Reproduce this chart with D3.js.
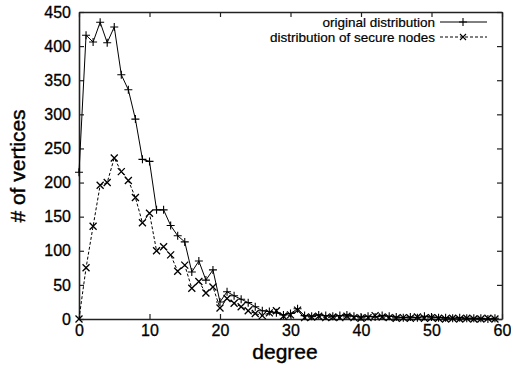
<!DOCTYPE html>
<html>
<head>
<meta charset="utf-8">
<script src="https://cdn.jsdelivr.net/npm/d3@7"></script>
<style>
  body { margin: 0; background: #fff; }
  text { font-family: "Liberation Sans", Arial, sans-serif; fill: #000; }
</style>
</head>
<body>
<div id="chart"></div>
<script>
var svgWidth = 511;
var svgHeight = 366;

var margin = { top: 12, right: 9, bottom: 47, left: 79 };
var width = svgWidth - margin.left - margin.right;
var height = svgHeight - margin.top - margin.bottom;

// values, one per degree 0..59
var degrees = d3.range(0, 60);
var original = [215, 416, 406, 435, 405, 428, 358, 336, 293, 234, 231, 160, 160, 137, 122, 113,
  69, 85, 57, 72, 25, 40, 34, 29, 24, 18, 12, 11, 9, 6, 8, 15, 5, 4, 6, 5, 4, 5, 6, 4,
  3, 4, 3, 5, 4, 3, 2, 3, 2, 4, 3, 2, 2, 1, 2, 1, 1, 1, 0, 1];
var secure = [0, 75, 136, 196, 200, 236, 216, 203, 178, 141, 155, 100, 106, 94, 70, 79,
  45, 55, 38, 47, 16, 30, 23, 18, 12, 8, 5, 9, 12, 4, 6, 13, 2, 3, 4, 2, 3, 2, 4, 2,
  1, 2, 5, 3, 2, 1, 2, 1, 3, 1, 2, 1, 0, 1, 0, 1, 0, 0, 1, 0];
var xTicks = [0, 10, 20, 30, 40, 50, 60];
var yTicks = [0, 50, 100, 150, 200, 250, 300, 350, 400, 450];
var seriesNames = ["original distribution", "distribution of secure nodes"];

var svg = d3.select("#chart")
  .append("svg")
  .attr("width", svgWidth)
  .attr("height", svgHeight);

var chart_group = svg.append("g")
  .attr("transform", `translate(${margin.left}, ${margin.top})`);

var xScale = d3.scaleLinear().domain([0, 60]).range([0, width]);
var yScale = d3.scaleLinear().domain([0, 450]).range([height, 0]);

// axes with inward ticks, mirrored on top and right like gnuplot
var bottomAxis = d3.axisBottom(xScale).tickValues(xTicks).tickSizeInner(-5).tickSizeOuter(0).tickPadding(6);
var leftAxis = d3.axisLeft(yScale).tickValues(yTicks).tickSizeInner(-5).tickSizeOuter(0).tickPadding(8);
var topAxis = d3.axisTop(xScale).tickValues(xTicks).tickSizeInner(-5).tickSizeOuter(0).tickFormat("");
var rightAxis = d3.axisRight(yScale).tickValues(yTicks).tickSizeInner(-5).tickSizeOuter(0).tickFormat("");

chart_group.append("g").attr("transform", `translate(0, ${height})`).call(bottomAxis);
chart_group.append("g").call(leftAxis);
chart_group.append("g").call(topAxis);
chart_group.append("g").attr("transform", `translate(${width}, 0)`).call(rightAxis);

chart_group.selectAll(".domain").attr("stroke", "#222").attr("stroke-width", 1.6);
chart_group.selectAll(".tick line").attr("stroke", "#222").attr("stroke-width", 1.2);
chart_group.selectAll(".tick text").attr("font-size", "16px")
  .attr("font-family", "'Liberation Sans', Arial, sans-serif").attr("fill", "#000")
  .attr("stroke", "#000").attr("stroke-width", 0.3);

// lines
var line = d3.line().x((d, i) => xScale(degrees[i])).y(d => yScale(d));

chart_group.append("path")
  .datum(original)
  .attr("fill", "none").attr("stroke", "#000").attr("stroke-width", 1)
  .attr("d", line);

chart_group.append("path")
  .datum(secure)
  .attr("fill", "none").attr("stroke", "#000").attr("stroke-width", 1)
  .attr("stroke-dasharray", "3,2")
  .attr("d", line);

// markers
function plus(x, y, s) { return `M${x - s},${y}H${x + s}M${x},${y - s}V${y + s}`; }
function cross(x, y, s) { return `M${x - s},${y - s}L${x + s},${y + s}M${x - s},${y + s}L${x + s},${y - s}`; }

chart_group.selectAll(".plus")
  .data(original).enter().append("path")
  .attr("class", "plus")
  .attr("d", (d, i) => plus(xScale(degrees[i]), yScale(d), 4))
  .attr("stroke", "#000").attr("stroke-width", 1.1);

chart_group.selectAll(".cross")
  .data(secure).enter().append("path")
  .attr("class", "cross")
  .attr("d", (d, i) => cross(xScale(degrees[i]), yScale(d), 3.5))
  .attr("stroke", "#000").attr("stroke-width", 1.3);

// legend
var legend = svg.append("g");
var legendRows = [{ y: 22, dash: null, marker: plus, s: 4 }, { y: 37, dash: "3,2", marker: cross, s: 3 }];
legendRows.forEach(function(r, i) {
  legend.append("text")
    .attr("x", 435).attr("y", r.y + 4.5)
    .attr("text-anchor", "end")
    .attr("font-size", "13.5px")
    .attr("stroke", "#000").attr("stroke-width", 0.2)
    .text(seriesNames[i]);
  legend.append("line")
    .attr("x1", 440).attr("x2", 487).attr("y1", r.y).attr("y2", r.y)
    .attr("stroke", "#000").attr("stroke-width", 1)
    .attr("stroke-dasharray", r.dash);
  legend.append("path")
    .attr("d", r.marker(463, r.y, r.s))
    .attr("stroke", "#000").attr("stroke-width", 1.1);
});

// axis labels
svg.append("text")
  .attr("transform", "translate(25, 166) rotate(-90)")
  .attr("text-anchor", "middle")
  .attr("font-size", "21px")
  .attr("stroke", "#000").attr("stroke-width", 0.4)
  .text("# of vertices");

svg.append("text")
  .attr("x", 285).attr("y", 359)
  .attr("text-anchor", "middle")
  .attr("font-size", "21px")
  .attr("stroke", "#000").attr("stroke-width", 0.4)
  .text("degree");
</script>
</body>
</html>
